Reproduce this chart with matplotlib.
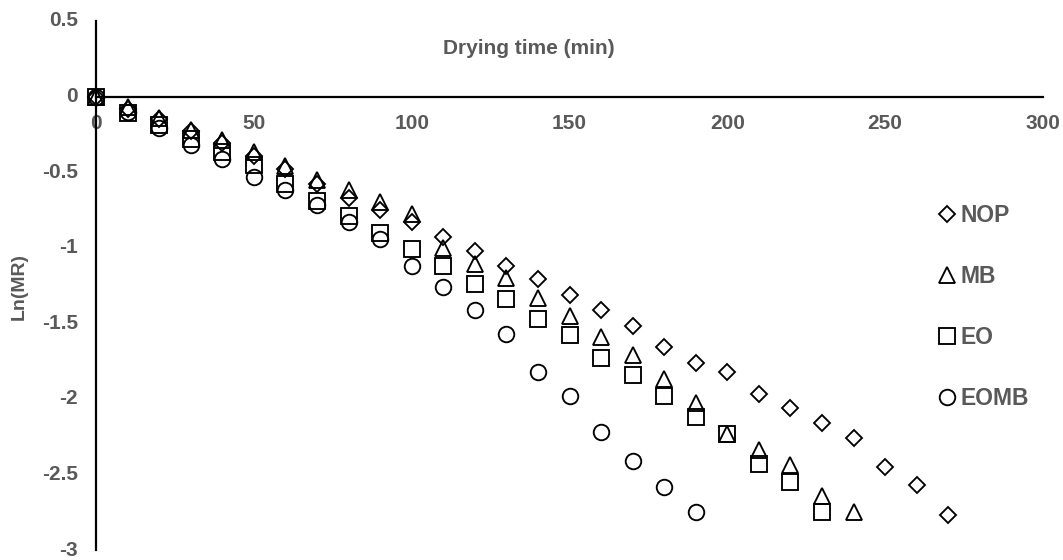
import matplotlib
matplotlib.use("Agg")
import matplotlib.pyplot as plt

# Drying time (min) and Ln(MR) for each drying pretreatment
time_min = [0, 10, 20, 30, 40, 50, 60, 70, 80, 90, 100, 110, 120, 130, 140,
            150, 160, 170, 180, 190, 200, 210, 220, 230, 240, 250, 260, 270]

ln_mr_nop = [0, -0.08, -0.15, -0.23, -0.31, -0.39, -0.48, -0.58, -0.67, -0.75,
             -0.83, -0.93, -1.02, -1.12, -1.21, -1.31, -1.41, -1.52, -1.66,
             -1.76, -1.82, -1.97, -2.06, -2.16, -2.26, -2.45, -2.57, -2.77]

ln_mr_mb = [0, -0.07, -0.14, -0.22, -0.29, -0.37, -0.46, -0.55, -0.62, -0.70,
            -0.78, -1.00, -1.11, -1.20, -1.33, -1.45, -1.59, -1.71, -1.87,
            -2.03, -2.23, -2.34, -2.44, -2.64, -2.75]

ln_mr_eo = [0, -0.11, -0.19, -0.28, -0.37, -0.45, -0.58, -0.69, -0.79, -0.90,
            -1.01, -1.12, -1.24, -1.34, -1.47, -1.58, -1.73, -1.84, -1.98,
            -2.12, -2.23, -2.43, -2.55, -2.75]

ln_mr_eomb = [0, -0.10, -0.21, -0.32, -0.41, -0.53, -0.62, -0.72, -0.83, -0.94,
              -1.12, -1.26, -1.41, -1.57, -1.82, -1.98, -2.22, -2.41, -2.58,
              -2.75]

series_names = ["NOP", "MB", "EO", "EOMB"]

x_ticks = [0, 50, 100, 150, 200, 250, 300]
x_tick_labels = ["0", "50", "100", "150", "200", "250", "300"]
y_ticks = [0.5, 0, -0.5, -1, -1.5, -2, -2.5, -3]
y_tick_labels = ["0.5", "0", "-0.5", "-1", "-1.5", "-2", "-2.5", "-3"]

plt.rcParams["font.family"] = ["Liberation Sans", "DejaVu Sans"]
plt.rcParams["font.weight"] = "bold"

GREY = "#595959"
W, H, DPI = 1063, 560, 100

fig = plt.figure(figsize=(W / DPI, H / DPI), dpi=DPI)
fig.patch.set_facecolor("white")

left, right, top, bottom = 96, 1043, 21, 550
ax = fig.add_axes([left / W, (H - bottom) / H, (right - left) / W, (bottom - top) / H])

mk = dict(linestyle="none", mfc="none", mec="black", mew=1.35, clip_on=False, zorder=3)
ax.plot(time_min[:len(ln_mr_nop)], ln_mr_nop, marker="D", ms=8.0, label=series_names[0], **mk)
ax.plot(time_min[:len(ln_mr_mb)], ln_mr_mb, marker="^", ms=11.0, label=series_names[1], **mk)
ax.plot(time_min[:len(ln_mr_eo)], ln_mr_eo, marker="s", ms=11.0, label=series_names[2], **mk)
ax.plot(time_min[:len(ln_mr_eomb)], ln_mr_eomb, marker="o", ms=11.2, label=series_names[3], **mk)

ax.set_xlim(0, 300)
ax.set_ylim(-3, 0.5)

# axis lines cross at the origin
ax.spines["top"].set_visible(False)
ax.spines["right"].set_visible(False)
ax.spines["bottom"].set_position(("data", 0))
ax.spines["left"].set_position(("data", 0))
for s in ("bottom", "left"):
    ax.spines[s].set_linewidth(1.6)
    ax.spines[s].set_color("black")

ax.set_xticks(x_ticks)
ax.set_xticklabels(x_tick_labels)
ax.set_yticks(y_ticks)
ax.set_yticklabels(y_tick_labels)
ax.tick_params(axis="both", length=0, labelsize=15, labelcolor=GREY)
ax.tick_params(axis="x", pad=12.5)
ax.tick_params(axis="y", pad=13)
for lab in ax.get_xticklabels():
    lab.set_fontweight("bold")
for lab in ax.get_yticklabels():
    lab.set_fontweight("bold")
    lab.set_verticalalignment("center")

fig.text(529 / W, 1 - 48 / H, "Drying time (min)", ha="center", va="center",
         fontsize=15, fontweight="bold", color=GREY)
fig.text(19 / W, 1 - 286 / H, "Ln(MR)", ha="center", va="center", rotation=90,
         fontsize=14, fontweight="bold", color=GREY)

leg = ax.legend(loc="center left", bbox_to_anchor=(940 / W, 1 - 307 / H),
                bbox_transform=fig.transFigure, frameon=False, fontsize=16.5,
                handlelength=0.6, handletextpad=0.3, labelspacing=1.67,
                borderpad=0, borderaxespad=0, numpoints=1)
for t in leg.get_texts():
    t.set_color(GREY)
    t.set_fontweight("bold")

fig.savefig("out.png", dpi=DPI, facecolor="white")
